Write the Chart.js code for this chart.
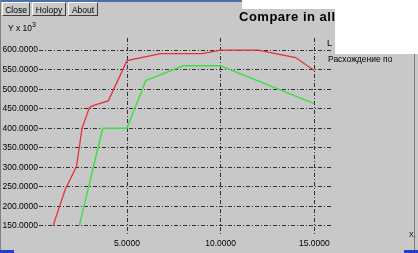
<!DOCTYPE html>
<html>
<head>
<meta charset="utf-8">
<script src="https://cdn.jsdelivr.net/npm/chart.js@4.4.1/dist/chart.umd.min.js"></script>
<style>
  html, body { margin: 0; padding: 0; }
  body { width: 418px; height: 253px; background: #c8c8c8; position: relative; overflow: hidden;
         font-family: "Liberation Sans", Arial, sans-serif; }
  #wrap { position: absolute; left: 0; top: 0; width: 418px; height: 253px; }
  .btn { position: absolute; top: 2px; height: 14px; font-size: 8.5px; line-height: 14px; color: #000;
         background: #c8c8c8; border-top: 1px solid #fff; border-left: 1px solid #fff;
         border-right: 1px solid #404040; border-bottom: 1px solid #404040; text-align: center; box-sizing: border-box; }
  .abs { position: absolute; white-space: nowrap; }
</style>
</head>
<body>
<div id="wrap"><canvas id="myChart" width="418" height="253"></canvas></div>

<!-- window bits -->
<div class="abs" style="left:0;top:0;width:242px;height:2px;background:#4a6fb0"></div>
<div class="abs" style="left:242px;top:0;width:176px;height:9px;background:#fff"></div>
<div class="abs" style="left:335px;top:0;width:83px;height:54px;background:#fff"></div>
<div class="abs" style="left:0;top:0;width:1px;height:253px;background:#808080"></div>
<div class="abs" style="left:414px;top:54px;width:1px;height:199px;background:#808080"></div>
<div class="abs" style="left:0;top:250px;width:14px;height:3px;background:#2040c0"></div>
<div class="abs" style="left:404px;top:250px;width:14px;height:3px;background:#2040c0"></div>

<div class="btn" style="left:2px;width:28px">Close</div>
<div class="btn" style="left:32px;width:34px">Holopy</div>
<div class="btn" style="left:68px;width:30px">About</div>

<div class="abs" style="left:8px;top:21px;font-size:8.5px">Y x 10<sup style="font-size:7px">3</sup></div>
<div class="abs" style="left:239px;top:9px;width:96px;overflow:hidden;font:bold 13px 'Liberation Sans', Arial, sans-serif;letter-spacing:0.5px">Compare in all</div>
<div class="abs" style="left:327px;top:38px;font-size:9px">L</div>
<div class="abs" style="left:328px;top:54px;width:86px;overflow:hidden;font-size:8.5px">Расхождение по</div>
<div class="abs" style="left:409px;top:231px;font-size:7px">X,</div>

<script>
// values (x, y in thousands)
const redX = [1.05, 1.7, 2.3, 2.6, 3.0, 3.3, 4.0, 5.0, 6.8, 9.0, 10.0, 12.0, 14.0, 15.0];
const redY = [150, 243, 302, 400, 454, 460, 470, 573, 591, 591, 600, 600, 581, 548];
const greenX = [2.45, 3.7, 5.0, 6.0, 8.0, 10.0, 15.0];
const greenY = [150, 400, 400, 522, 560, 560, 463];
const xTicks = [5, 10, 15];
const yTicks = [150, 200, 250, 300, 350, 400, 450, 500, 550, 600];

function toPoints(xs, ys) {
  let pts = [];
  for (let i = 0; i < xs.length; i++) {
    pts.push({ x: xs[i], y: ys[i] });
  }
  return pts;
}

// draws the "0.0000" style tick labels next to the plot
const tickText = {
  id: 'tickText',
  afterDraw(chart) {
    const ctx = chart.ctx;
    const xs = chart.scales.x, ys = chart.scales.y;
    ctx.save();
    ctx.fillStyle = '#000';
    ctx.font = '8.5px "Liberation Sans", Arial, sans-serif';
    ctx.textAlign = 'right';
    ctx.textBaseline = 'middle';
    yTicks.forEach(v => ctx.fillText(v.toFixed(4), 38, ys.getPixelForValue(v)));
    ctx.textAlign = 'center';
    ctx.textBaseline = 'top';
    xTicks.forEach(v => ctx.fillText(v.toFixed(4), xs.getPixelForValue(v), 239));
    ctx.restore();
  }
};

const gridStyle = {
  color: '#303030',
  lineWidth: 1,
  drawTicks: false,
  tickBorderDash: [4, 2, 1, 2]
};

const config = {
  type: 'scatter',
  data: {
    datasets: [
      {
        label: 'L',
        data: toPoints(redX, redY),
        showLine: true,
        borderColor: '#e8303a',
        borderWidth: 1.3,
        pointRadius: 0,
        tension: 0
      },
      {
        label: 'P',
        data: toPoints(greenX, greenY),
        showLine: true,
        borderColor: '#3ee048',
        borderWidth: 1.5,
        pointRadius: 0,
        tension: 0
      }
    ]
  },
  options: {
    responsive: false,
    animation: false,
    events: [],
    layout: { padding: { left: 39, right: 85, top: 38, bottom: 17 } },
    plugins: {
      legend: { display: false },
      title: { display: false },
      tooltip: { enabled: false }
    },
    scales: {
      x: {
        type: 'linear',
        min: 0.3,
        max: 16,
        border: { display: false },
        grid: Object.assign({}, gridStyle),
        ticks: { display: false },
        afterBuildTicks: s => { s.ticks = xTicks.map(v => ({ value: v })); }
      },
      y: {
        type: 'linear',
        min: 124,
        max: 631,
        border: { display: false },
        grid: Object.assign({}, gridStyle),
        ticks: { display: false },
        afterBuildTicks: s => { s.ticks = yTicks.map(v => ({ value: v })); }
      }
    }
  },
  plugins: [tickText]
};

// dashed grid lines
config.options.scales.x.border.dash = [4, 2, 1, 2];
config.options.scales.y.border.dash = [4, 2, 1, 2];

const myChart = new Chart(document.getElementById('myChart'), config);
</script>
</body>
</html>
